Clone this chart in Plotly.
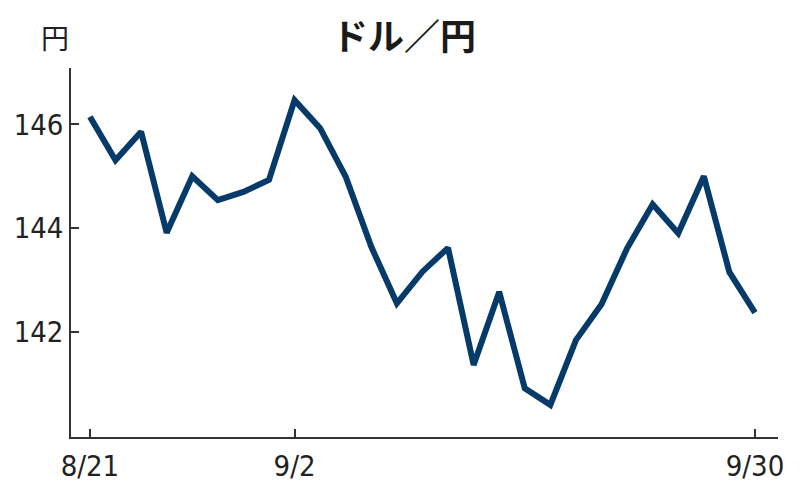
import plotly.graph_objects as go

# trading days (Tokyo), 2024
dates = ['8/21', '8/22', '8/23', '8/26', '8/27', '8/28', '8/29', '8/30',
         '9/2', '9/3', '9/4', '9/5', '9/6', '9/9', '9/10', '9/11', '9/12', '9/13',
         '9/17', '9/18', '9/19', '9/20', '9/24', '9/25', '9/26', '9/27', '9/30']
usd_jpy = [146.15, 145.31, 145.86, 143.91, 145.00, 144.54, 144.70, 144.93,
           146.47, 145.93, 144.99, 143.64, 142.55, 143.16, 143.62, 141.36, 142.77, 140.91,
           140.59, 141.84, 142.53, 143.61, 144.46, 143.90, 145.00, 143.15, 142.37]

x_ticks = ['8/21', '9/2', '9/30']
y_ticks = [142, 144, 146]

num_font = 'DejaVu Sans Condensed'
jp_font = 'Noto Sans CJK JP'

fig = go.Figure()
fig.add_trace(go.Scatter(x=dates, y=usd_jpy, mode='lines',
                         line=dict(color='#063a69', width=6), hoverinfo='skip'))

# page body has an 8px margin, so the figure is a bit smaller than the window
fig.update_layout(
    width=792, height=488,
    margin=dict(l=63, r=22, t=60, b=59),
    plot_bgcolor='white', paper_bgcolor='white',
    showlegend=False,
)

fig.update_xaxes(
    type='category', range=[-0.74, 26.9], automargin=False,
    tickmode='array', tickvals=x_ticks, ticktext=x_ticks,
    showgrid=False, zeroline=False,
    showline=True, linecolor='#333333', linewidth=1.5,
    ticks='inside', ticklen=8, tickwidth=1.5, tickcolor='#333333',
    ticklabelstandoff=2,
    tickfont=dict(family=num_font, size=29, color='#222222'),
)
fig.update_yaxes(
    range=[139.97, 147.09], automargin=False,
    tickmode='array', tickvals=y_ticks, ticktext=[str(v) for v in y_ticks],
    showgrid=False, zeroline=False,
    showline=True, linecolor='#333333', linewidth=1.5,
    ticks='inside', ticklen=8, tickwidth=1.5, tickcolor='#333333',
    ticklabelstandoff=0,
    tickfont=dict(family=num_font, size=29, color='#222222'),
)

# title
fig.add_annotation(text='<b>ドル／円</b>', xref='paper', yref='paper', x=0.471, y=1.0, yshift=34,
                   xanchor='center', yanchor='middle', showarrow=False, borderpad=0,
                   font=dict(family=jp_font, size=36, color='#1a1a1a'))
# unit
fig.add_annotation(text='円', xref='paper', yref='paper', x=-0.022, y=1.0, yshift=31,
                   xanchor='center', yanchor='middle', showarrow=False,
                   font=dict(family=jp_font, size=28, color='#222222'))

fig.write_html("out.html")
